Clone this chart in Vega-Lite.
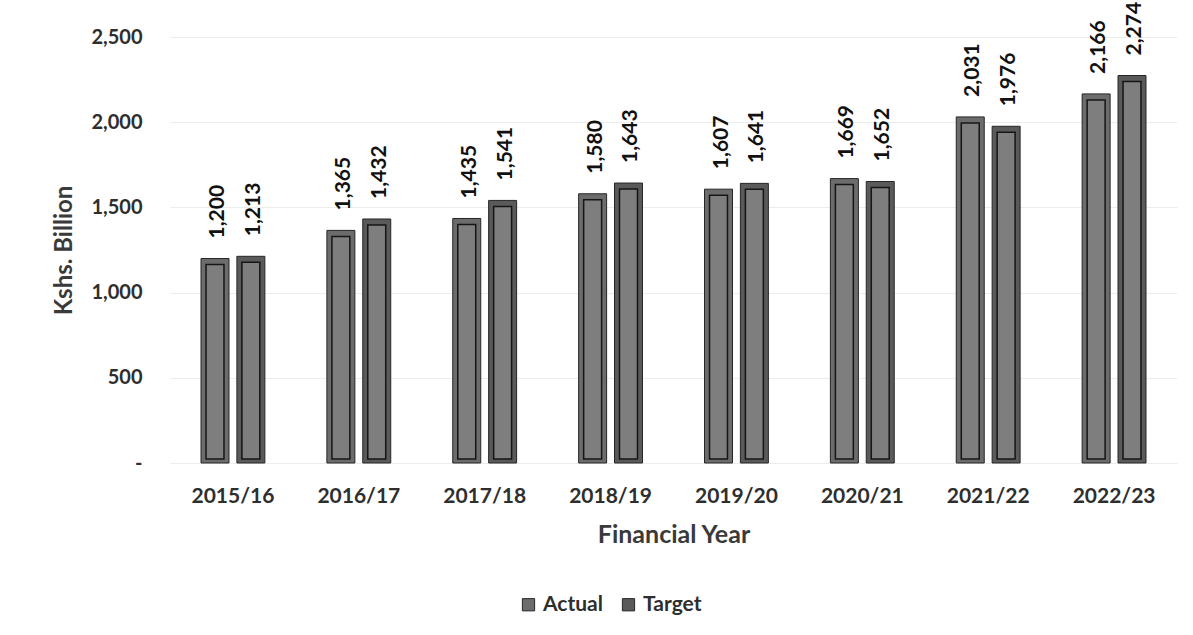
{
  "$schema": "https://vega.github.io/schema/vega-lite/v6.json",
  "width": 1007,
  "height": 426,
  "autosize": {"type": "none"},
  "padding": {"left": 170, "top": 37, "right": 16, "bottom": 172},
  "background": "white",
  "config": {
    "font": "Lato",
    "view": {"stroke": null},
    "axis": {"labelFont": "Lato", "titleFont": "Lato"}
  },
  "data": {
    "values": [
      {"year": "2015/16", "series": "Actual", "value": 1200},
      {"year": "2015/16", "series": "Target", "value": 1213},
      {"year": "2016/17", "series": "Actual", "value": 1365},
      {"year": "2016/17", "series": "Target", "value": 1432},
      {"year": "2017/18", "series": "Actual", "value": 1435},
      {"year": "2017/18", "series": "Target", "value": 1541},
      {"year": "2018/19", "series": "Actual", "value": 1580},
      {"year": "2018/19", "series": "Target", "value": 1643},
      {"year": "2019/20", "series": "Actual", "value": 1607},
      {"year": "2019/20", "series": "Target", "value": 1641},
      {"year": "2020/21", "series": "Actual", "value": 1669},
      {"year": "2020/21", "series": "Target", "value": 1652},
      {"year": "2021/22", "series": "Actual", "value": 2031},
      {"year": "2021/22", "series": "Target", "value": 1976},
      {"year": "2022/23", "series": "Actual", "value": 2166},
      {"year": "2022/23", "series": "Target", "value": 2274}
    ]
  },
  "encoding": {
    "x": {
      "field": "year", "type": "nominal", "sort": null,
      "scale": {"paddingInner": 0.43, "paddingOuter": 0.215},
      "axis": {
        "title": "Financial Year", "labelAngle": 0, "labelFontSize": 21, "labelFontWeight": "bold",
        "labelColor": "#2e2e2e", "titleFontSize": 25, "titleFontWeight": "bold", "titleColor": "#3a3a3a",
        "labelPadding": 22, "titlePadding": 16, "ticks": false, "domain": false, "grid": false
      }
    },
    "y": {
      "field": "value", "type": "quantitative",
      "scale": {"domain": [0, 2500], "nice": false},
      "axis": {
        "title": "Kshs. Billion", "values": [0, 500, 1000, 1500, 2000, 2500],
        "labelExpr": "datum.value == 0 ? '-' : format(datum.value, ',')",
        "labelFontSize": 20, "labelFontWeight": "bold", "labelColor": "#2e2e2e",
        "titleFontSize": 24, "titleFontWeight": "bold", "titleColor": "#3a3a3a",
        "labelPadding": 28, "titlePadding": 14, "ticks": false, "domain": false,
        "gridColor": "#ececec", "gridWidth": 1
      }
    }
  },
  "layer": [
    {
      "encoding": {
        "xOffset": {"field": "series", "type": "nominal", "scale": {"paddingInner": 0.22, "paddingOuter": 0.11}}
      },
      "layer": [
        {
          "mark": {"type": "bar", "stroke": "#262626", "strokeWidth": 1},
          "encoding": {
            "color": {
              "field": "series", "type": "nominal",
              "scale": {"domain": ["Actual", "Target"], "range": ["#6c6c6c", "#5a5a5a"]},
              "legend": {
                "title": null, "orient": "none", "direction": "horizontal",
                "legendX": 348, "legendY": 557,
                "symbolType": "square", "symbolSize": 150, "symbolStrokeColor": "#262626", "symbolStrokeWidth": 1,
                "labelFontSize": 21, "labelFontWeight": "bold", "labelColor": "#2e2e2e", "columnPadding": 15
              }
            }
          }
        },
        {
          "mark": {"type": "text", "angle": -90, "align": "left", "baseline": "middle", "dx": 20, "dy": 3, "fontSize": 21, "fontWeight": "bold", "color": "#111111"},
          "encoding": {
            "text": {"field": "value", "type": "quantitative", "format": ","}
          }
        }
      ]
    },
    {
      "mark": {"type": "bar", "color": "#7e7e7e", "stroke": "#161616", "strokeWidth": 1.5, "yOffset": 6, "y2Offset": -4},
      "encoding": {
        "xOffset": {"field": "series", "type": "nominal", "scale": {"paddingInner": 0.5, "paddingOuter": 0.25}},
        "y2": {"datum": 0}
      }
    }
  ],
  "resolve": {"scale": {"xOffset": "independent"}}
}
